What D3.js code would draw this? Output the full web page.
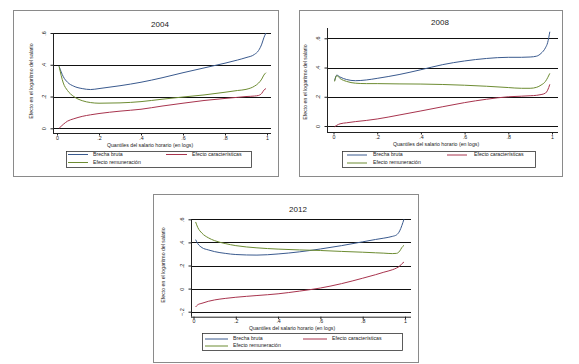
<!DOCTYPE html>
<html><head><meta charset="utf-8">
<script src="https://cdn.jsdelivr.net/npm/d3@7"></script>
<style>body{margin:0;background:#fff}svg{display:block}text{font-family:"Liberation Sans",Arial,sans-serif;fill:#222}</style>
</head><body><svg id="c" width="579" height="364"></svg>
<script>
// ---------- DATA ----------
const seriesNames = ["Brecha bruta", "Efecto características", "Efecto remuneración"];
const xTickValues = [0, 0.2, 0.4, 0.6, 0.8, 1];

const q2004 = [0.01,0.03,0.05,0.08,0.12,0.16,0.2,0.3,0.4,0.5,0.6,0.7,0.8,0.86,0.9,0.94,0.96,0.975,0.985,0.995];
const brecha2004 = [0.39,0.325,0.29,0.265,0.25,0.244,0.25,0.268,0.29,0.318,0.35,0.38,0.41,0.43,0.445,0.465,0.49,0.53,0.57,0.6];
const caract2004 = [0.0,0.025,0.045,0.06,0.075,0.085,0.093,0.108,0.12,0.14,0.158,0.175,0.188,0.195,0.2,0.203,0.207,0.22,0.24,0.25];
const remun2004  = [0.39,0.285,0.238,0.2,0.174,0.162,0.158,0.16,0.168,0.183,0.197,0.21,0.227,0.238,0.245,0.265,0.285,0.31,0.335,0.35];

const q2008 = [0.005,0.015,0.03,0.06,0.1,0.15,0.2,0.3,0.4,0.5,0.6,0.7,0.8,0.86,0.9,0.93,0.95,0.97,0.98,0.99];
const brecha2008 = [0.31,0.348,0.335,0.318,0.31,0.315,0.326,0.352,0.385,0.42,0.445,0.462,0.47,0.47,0.472,0.478,0.497,0.535,0.57,0.645];
const caract2008 = [-0.005,0.005,0.015,0.022,0.03,0.038,0.048,0.075,0.103,0.132,0.16,0.183,0.2,0.204,0.207,0.21,0.215,0.225,0.245,0.285];
const remun2008  = [0.305,0.345,0.325,0.305,0.293,0.29,0.29,0.288,0.287,0.284,0.279,0.272,0.263,0.258,0.258,0.265,0.28,0.305,0.33,0.36];

const q2012 = [0.01,0.02,0.04,0.07,0.1,0.15,0.2,0.3,0.4,0.5,0.6,0.7,0.8,0.86,0.9,0.94,0.96,0.975,0.985,0.995];
const brecha2012 = [0.424,0.39,0.355,0.335,0.32,0.305,0.295,0.29,0.3,0.318,0.343,0.372,0.405,0.425,0.437,0.452,0.465,0.5,0.545,0.6];
const caract2012 = [-0.159,-0.14,-0.127,-0.11,-0.098,-0.085,-0.075,-0.06,-0.045,-0.022,0.005,0.043,0.09,0.12,0.142,0.163,0.178,0.195,0.215,0.23];
const remun2012  = [0.577,0.53,0.48,0.44,0.415,0.39,0.372,0.353,0.342,0.335,0.33,0.322,0.315,0.31,0.307,0.303,0.305,0.325,0.355,0.375];

const yTicks2004 = [0, 0.2, 0.4, 0.6];
const yTicks2008 = [0, 0.2, 0.4, 0.6];
const yTicks2012 = [-0.2, 0, 0.2, 0.4, 0.6];

// ---------- LAYOUT ----------
const colors = ["#3a5a8e", "#a8344e", "#6d8c32"];
const panels = [
  {year:"2004", q:q2004, s:[brecha2004,caract2004,remun2004], ticks:yTicks2004,
   box:[13,10,278,176], axisX:53, right:271, x0:57, x1:267, yd:[0,0.6], yr:[128.3,33], yTop:33, bottom:133,
   title:[160,25], xt:[150,145.5], yt:[32,81], leg:[66,151,251,167], lx:[68,88,93,166,187,192], ly:[154.5,162.5]},
  {year:"2008", q:q2008, s:[brecha2008,caract2008,remun2008], ticks:yTicks2008,
   box:[299,10,562,176], axisX:327, right:558, x0:333.5, x1:552, yd:[0,0.6], yr:[126,38.3], yTop:28, bottom:132,
   title:[440,23], xt:[436,144.5], yt:[306,82], leg:[342,151,535,167], lx:[347,367,373,447,467,474], ly:[155,163]},
  {year:"2012", q:q2012, s:[brecha2012,caract2012,remun2012], ticks:yTicks2012,
   box:[153,194,418,362], axisX:191, right:411, x0:193.5, x1:405, yd:[-0.2,0.6], yr:[311.7,219.3], yTop:219.3, bottom:316.7,
   title:[298,210], xt:[292,328.3], yt:[164,265], leg:[202,333,402,350], lx:[205,228,233,303,327,332], ly:[339,346]}
];

const svg = d3.select("#c");
const fmt = d => d === 0 ? "0" : (d === 1 ? "1" : d3.format(".1f")(d).replace("0.", "."));

panels.forEach(p => {
  const g = svg.append("g");
  g.append("rect").attr("x", p.box[0]+0.5).attr("y", p.box[1]+0.5)
    .attr("width", p.box[2]-p.box[0]).attr("height", p.box[3]-p.box[1])
    .attr("fill", "#fff").attr("stroke", "#8a8a8a").attr("stroke-width", 1);

  const x = d3.scaleLinear().domain([0,1]).range([p.x0, p.x1]);
  const y = d3.scaleLinear().domain(p.yd).range(p.yr);

  // gridlines
  g.append("g").selectAll("line").data(p.ticks).join("line")
    .attr("x1", p.axisX).attr("x2", p.right)
    .attr("y1", d => Math.round(y(d))+0.5).attr("y2", d => Math.round(y(d))+0.5)
    .attr("stroke", "#111").attr("stroke-width", 1.1);

  // axis lines
  g.append("line").attr("x1", p.axisX+0.5).attr("x2", p.axisX+0.5).attr("y1", p.yTop).attr("y2", p.bottom)
    .attr("stroke", "#222").attr("stroke-width", 1);
  g.append("line").attr("x1", p.axisX).attr("x2", p.right).attr("y1", p.bottom+0.5).attr("y2", p.bottom+0.5)
    .attr("stroke", "#222").attr("stroke-width", 1);

  // x axis
  const xa = g.append("g").attr("transform", `translate(0,${p.bottom})`)
    .call(d3.axisBottom(x).tickValues(xTickValues).tickFormat(fmt).tickSize(2.5).tickSizeOuter(0));
  xa.select(".domain").remove();
  xa.selectAll("line").attr("stroke", "#222");
  xa.selectAll("text").attr("font-size", 5.3).attr("y", 2.8).attr("dy", "0.71em").style("fill", "#222");

  // y axis (rotated labels)
  const ya = g.append("g").attr("transform", `translate(${p.axisX},0)`)
    .call(d3.axisLeft(y).tickValues(p.ticks).tickFormat(fmt).tickSize(2.5).tickSizeOuter(0));
  ya.select(".domain").remove();
  ya.selectAll("line").attr("stroke", "#222");
  ya.selectAll("text").attr("font-size", 5.5).attr("x", 0).attr("y", -7).attr("dy", 0)
    .attr("text-anchor", "middle").attr("transform", "rotate(-90)").style("fill", "#222");

  // titles
  g.append("text").attr("x", p.title[0]).attr("y", p.title[1]).attr("text-anchor", "middle")
    .attr("dominant-baseline", "middle").attr("font-size", 8).text(p.year);
  g.append("text").attr("x", p.xt[0]).attr("y", p.xt[1]).attr("text-anchor", "middle")
    .attr("dominant-baseline", "middle").attr("font-size", 5.2).text("Quantiles del salario horario (en logs)");
  g.append("text").attr("transform", `translate(${p.yt[0]},${p.yt[1]}) rotate(-90)`).attr("text-anchor", "middle")
    .attr("dominant-baseline", "middle").attr("font-size", 5.2).text("Efecto en el logaritmo del salario");

  // series
  const line = d3.line().x(d => x(d[0])).y(d => y(d[1])).curve(d3.curveMonotoneX);
  [0,2,1].forEach(k => {
    g.append("path").datum(p.q.map((qq,i) => [qq, p.s[k][i]]))
      .attr("d", line).attr("fill", "none").attr("stroke", colors[k]).attr("stroke-width", 1);
  });

  // legend
  const L = p.leg;
  g.append("rect").attr("x", L[0]+0.5).attr("y", L[1]+0.5).attr("width", L[2]-L[0]).attr("height", L[3]-L[1])
    .attr("fill", "#fff").attr("stroke", "#333").attr("stroke-width", 0.8);
  const items = [[0, p.lx[0], p.lx[1], p.lx[2], p.ly[0]], [1, p.lx[3], p.lx[4], p.lx[5], p.ly[0]], [2, p.lx[0], p.lx[1], p.lx[2], p.ly[1]]];
  items.forEach(it => {
    g.append("line").attr("x1", it[1]).attr("x2", it[2]).attr("y1", it[4]).attr("y2", it[4])
      .attr("stroke", colors[it[0]]).attr("stroke-width", 1);
    g.append("text").attr("x", it[3]).attr("y", it[4]).attr("dominant-baseline", "middle")
      .attr("font-size", 5.2).text(seriesNames[it[0]]);
  });
});
</script></body></html>
